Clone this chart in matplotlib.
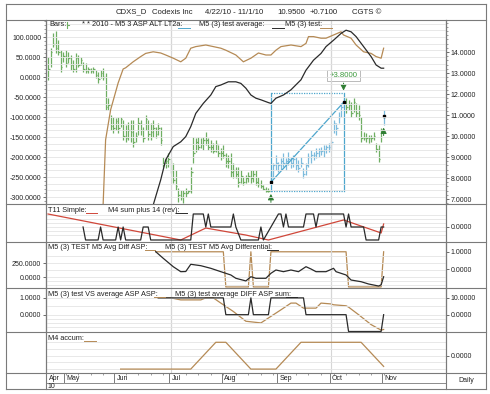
import pandas as pd
import matplotlib
matplotlib.use("Agg")
import matplotlib.pyplot as plt
from matplotlib.lines import Line2D
from matplotlib.ticker import FixedLocator, MultipleLocator, FuncFormatter

plt.rcParams['font.family'] = ['Liberation Sans', 'DejaVu Sans']

W, H = 490, 394

# trading days, Apr 22 - Nov 1 2010
holidays = ['2010-05-31', '2010-07-05', '2010-09-06']
days = pd.bdate_range('2010-04-22', '2010-11-01', freq='C', holidays=holidays)

# daily bars (high / low / close)
bar_high = [13.76, 14.19, 14.90, 15.00, 14.57, 14.10, 14.00, 14.10, 14.00, 13.86,
            13.62, 13.95, 13.86, 13.76, 13.52, 13.48, 13.29, 13.24, 13.29, 13.14, 13.05, 13.14, 13.24,
            13.00, 11.81, 11.00, 10.90, 10.86, 10.90, 10.90, 10.76, 10.52, 10.67, 10.76, 10.76, 10.19,
            10.90, 10.76, 10.43, 11.00, 10.76, 10.62, 10.76, 10.43, 10.62, 10.43, 9.00, 8.95, 9.19,
            8.86, 8.71, 8.38, 7.52, 7.43, 7.43, 7.52, 7.43, 8.52, 9.95, 9.90, 9.95, 9.90, 9.95, 10.19,
            9.90, 9.81, 9.67, 9.81, 9.57,
            9.43, 9.57, 9.19, 9.10, 9.19, 8.71, 8.52, 8.52, 8.38, 8.05, 8.14, 8.29, 8.38, 8.38, 8.38,
            8.05, 7.90, 7.67, 7.57, 7.52, 8.29, 8.71, 9.10, 8.76, 8.95, 9.19, 8.95, 9.24, 9.00, 9.10,
            9.00, 8.86, 9.00, 8.48, 8.71, 9.19, 9.33, 9.24, 9.43, 9.43, 9.48, 9.57, 9.57, 9.67, 9.81,
            10.76, 10.62, 11.14, 11.57, 11.81, 11.81, 11.71, 11.62, 11.81, 11.57, 11.48, 10.90, 10.19,
            10.14, 10.05, 10.05, 10.19, 9.67, 9.57, 10.38, 11.24]
bar_low = [12.67, 13.29, 14.24, 13.95, 13.86, 13.05, 13.52, 13.29, 13.48, 13.14,
           13.05, 13.05, 13.29, 13.38, 13.05, 13.00, 13.00, 13.00, 13.00, 12.76, 12.52, 12.76, 12.67,
           11.24, 11.24, 10.29, 10.14, 10.29, 10.14, 10.43, 9.81, 9.71, 9.81, 9.71, 9.48, 9.71,
           10.05, 10.05, 9.71, 10.29, 9.81, 9.81, 9.95, 9.90, 10.05, 9.57, 8.52, 8.48, 8.52,
           8.24, 7.76, 7.43, 6.86, 6.95, 6.81, 7.10, 7.29, 7.29, 8.71, 9.24, 9.33, 9.43, 9.33, 9.57,
           9.33, 9.24, 9.19, 9.24, 9.00,
           8.86, 8.95, 8.52, 8.48, 8.05, 8.00, 8.00, 7.57, 7.76, 7.67, 7.76, 7.81, 7.76, 7.81,
           7.67, 7.57, 7.52, 7.43, 7.33, 7.33, 7.76, 8.05, 8.38, 8.29, 8.38, 8.52, 8.38, 8.62, 8.48,
           8.52, 8.38, 8.29, 8.52, 8.00, 8.14, 8.52, 8.71, 8.86, 8.95, 9.00, 9.10, 9.00, 9.19, 9.24, 9.33,
           10.14, 10.05, 10.62, 10.90, 11.38, 11.10, 11.24, 10.90, 11.14, 10.90, 10.76, 9.71, 9.81,
           9.71, 9.67, 9.71, 9.81, 9.24, 8.76, 9.71, 10.52]
bar_close = [13.20, 14.00, 14.40, 14.20, 14.00, 13.30, 13.80, 13.50, 13.70, 13.40,
             13.20, 13.70, 13.40, 13.60, 13.20, 13.10, 13.20, 13.10, 13.20, 12.90, 12.70, 13.00, 12.80,
             11.40, 11.50, 10.50, 10.40, 10.70, 10.40, 10.80, 10.00, 9.90, 10.30, 10.20, 9.70, 10.00,
             10.60, 10.30, 9.90, 10.80, 10.10, 10.20, 10.40, 10.10, 10.40, 9.80, 8.70, 8.80, 8.90,
             8.40, 7.90, 7.60, 7.20, 7.10, 7.30, 7.30, 7.40, 8.30, 9.20, 9.70, 9.50, 9.60, 9.80, 9.80,
             9.50, 9.50, 9.30, 9.60, 9.20,
             9.20, 9.10, 8.80, 8.80, 8.30, 8.40, 8.20, 7.80, 8.10, 7.80, 8.00, 8.10, 8.00, 8.20,
             7.80, 7.70, 7.60, 7.50, 7.40, 7.40, 8.05, 8.60, 8.70, 8.60, 8.80, 8.70, 8.80, 8.90, 8.70,
             8.90, 8.60, 8.50, 8.70, 8.20, 8.60, 9.00, 9.10, 9.10, 9.20, 9.30, 9.30, 9.40, 9.50, 9.50, 9.70,
             10.60, 10.40, 10.90, 11.40, 11.60, 11.40, 11.50, 11.10, 11.60, 11.10, 11.00, 9.90, 9.90,
             9.90, 9.90, 9.90, 10.00, 9.40, 8.90, 10.24, 10.95]

# measured move (+3.80)
move_start, move_end = 89, 118
move_start_price, move_end_price = 7.80, 11.60
box_low, box_high = 7.40, 12.06

# main panel indicators (left scale)
test_idx = [22, 23, 25, 28, 30, 31, 34, 37, 39, 42, 45, 47, 50, 53, 55, 57, 59, 63, 66, 69,
            71, 75, 78, 81, 84, 87, 89, 91, 93, 97, 101, 103, 104, 106, 109, 111, 114, 117, 118, 121,
            123, 126, 129, 131, 133, 134]
test_val = [-320, -157, -82, -15, 20, 23, 38, 51, 59, 63, 60, 55, 47, 38, 47, 72, 76, 80, 76, 72,
            67, 55, 38, 47, 60, 55, 55, 67, 76, 80, 76, 84, 101, 101, 97, 97, 105, 113, 105, 97,
            80, 63, 59, 51, 47, 72]
avg_idx = [42, 45, 47, 50, 53, 55, 57, 59, 62, 65, 67, 69, 72, 75, 77, 79, 81, 83, 85, 88,
           89, 91, 94, 97, 101, 103, 106, 109, 111, 114, 117, 119, 121, 123, 126, 129, 131, 133, 134]
avg_val = [-320, -257, -207, -174, -162, -149, -124, -91, -66, -45, -24, -20, -12, -12, -16, -28, -45, -53, -57, -64,
           -66, -53, -45, -32, -7, 17, 42, 59, 76, 92, 109, 117, 113, 101, 76, 51, 30, 22, 22]

# T11 panel
t11_idx = [0, 53, 63, 79, 88, 118, 133, 134]
t11_val = [1.0, -1.0, -0.08, -0.62, -1.0, 0.54, -0.46, 0.23]
m4_idx = [14, 15, 20, 21, 22, 27, 28, 29, 30, 31, 37, 38, 40, 41, 57, 58, 62, 63, 64, 65,
          73, 74, 75, 77, 84, 85, 86, 92, 93, 94, 95, 96, 102, 103, 106, 107, 108, 118, 119, 120,
          121, 126, 127, 132, 133, 134]
m4_val = [0, -1, -1, 0, -1, -1, 0, -1, 0, -1, -1, 0, 0, -1, -1, 1, 1, 0, 1, 0,
          0, 1, 0, -1, -1, 0, -1, 1, 1, 0, 1, 0, 0, 1, 1, 0, 1, 1, 0, 1,
          0, 0, -1, -1, 0, 0]

# M5 avg diff panel
diff_idx = [43, 46, 50, 53, 55, 57, 61, 65, 69, 73, 75, 79, 81, 83, 85, 87, 89, 91, 94, 97,
            100, 103, 105, 107, 111, 114, 115, 119, 121, 125, 128, 132, 133, 134]
diff_val = [452, 334, 184, 95, 98, 227, 202, 155, 95, 36, -23, -70, 5, -23, -23, -23, 66, 125, 95, 125,
            95, 184, 143, 95, 95, 155, 95, 36, -54, -84, -125, -161, -140, 5]
asp_idx = [43, 70, 71, 80, 81, 82, 88, 89, 119, 120, 133, 134]
asp_val = [1, 1, -1, -1, 1, -1, -1, 1, 1, -1, -1, 1]

# M5 test VS average panel
vs_idx = [44, 70, 71, 80, 81, 82, 88, 89, 102, 103, 119, 120, 133, 134]
vs_val = [1, 1, 0, 0, 1, 0, 0, 1, 1, 0, 0, -1, -1, 0]
sum_idx = [44, 49, 53, 61, 63, 66, 69, 74, 79, 85, 89, 93, 97, 99, 102, 107, 109, 113, 114, 119,
           120, 124, 129, 133, 134]
sum_val = [10, 10, 8.8, 8.8, 10, 10, 6.9, 1.9, -3.9, -4.9, -1, 2.9, 6.9, 6.9, 3.9, 3.9, 6.9, 6.4, 5.9, 5.3,
           4.5, 0, -5.9, -9.2, -8.8]

# M4 accum panel
acc_idx = [29, 57, 67, 71, 81, 91, 101, 125, 134]
acc_val = [-5, -5, 5, 5, -5, -5, 5, 5, -4]

GREEN = '#6fae63'
BLUE = '#7dbbdc'
BOXC = '#4ea6cc'
BROWN = '#b58a55'
BLACK = '#2a2a2a'
RED = '#d0473a'
GRID = '#e4e4e4'
EDGE = '#7a7a7a'
FS = 5.0
LFS = 5.3

XMIN = -0.8
XMAX = 158.9
n = len(days)
x = list(range(n))
month_idx = [0] + [i for i in range(1, n) if days[i].month != days[i - 1].month]
quarter_idx = [i for i in month_idx if i > 0 and days[i].month in (1, 4, 7, 10)]

fig = plt.figure(figsize=(W / 100, H / 100), dpi=100)
fig.patch.set_facecolor('white')


def px_rect(x0, y0, x1, y1):
    return [x0 / W, 1 - y1 / H, (x1 - x0) / W, (y1 - y0) / H]


def fline(xs, ys, color=EDGE, lw=0.8):
    fig.add_artist(Line2D([v / W for v in xs], [1 - v / H for v in ys], color=color, lw=lw))


def ftext(px, py, s, size=LFS, color='#222222', **kw):
    fig.text(px / W, 1 - py / H, s, fontsize=size, color=color, va='center', **kw)


def fmt4(v, pos):
    return '%.4f' % v


def style(ax):
    ax.set_xlim(XMIN, XMAX)
    ax.patch.set_visible(False)
    for s in ['top', 'bottom']:
        ax.spines[s].set_visible(False)
    for s in ['left', 'right']:
        ax.spines[s].set_color(EDGE)
        ax.spines[s].set_linewidth(0.8)
    ax.tick_params(axis='x', bottom=False, labelbottom=False)
    ax.tick_params(axis='y', which='both', direction='out', length=2.5, width=0.6,
                   pad=1, labelsize=FS, colors='#555555', labelcolor='#222222')
    ax.tick_params(axis='y', which='minor', length=1.3, width=0.4)
    for q in quarter_idx:
        ax.axvline(q, color='#d6d6d6', lw=0.8, zorder=0)


def up_arrow(axis, xi, y0, y1):
    axis.annotate('', xy=(xi, y1), xytext=(xi, y0), zorder=5,
                  arrowprops=dict(arrowstyle='-|>,head_width=0.18,head_length=0.35',
                                  color='#2e7d32', lw=0.7, shrinkA=0, shrinkB=0))


# ---------------- main price panel ----------------
ax = fig.add_axes(px_rect(46, 20, 446, 204))
axp = ax.twinx()
style(ax)
style(axp)
ax.set_ylim(-317.5, 142.5)
axp.set_ylim(6.762, 15.524)
ax.yaxis.set_major_locator(FixedLocator([100, 50, 0, -50, -100, -150, -200, -250, -300]))
ax.yaxis.set_minor_locator(MultipleLocator(10))
ax.yaxis.set_major_formatter(FuncFormatter(fmt4))
axp.yaxis.set_major_locator(FixedLocator([7, 8, 9, 10, 11, 12, 13, 14]))
axp.yaxis.set_minor_locator(MultipleLocator(0.2))
axp.yaxis.set_major_formatter(FuncFormatter(fmt4))
for g in range(-19, 9):
    ax.axhline(g * 50 / 3, color=GRID, lw=0.6, zorder=0)

cols = [BLUE if (move_start <= i <= move_end or i == n - 1) else GREEN for i in x]
axp.vlines(x, bar_low, bar_high, colors=cols, lw=0.9, zorder=2)
axp.hlines(bar_close, [i for i in x], [i + 0.7 for i in x], colors=cols, lw=0.9, zorder=2)

# measured move box
axp.plot([move_start, move_start], [box_low, box_high], color=BOXC, lw=0.9, zorder=3)
axp.plot([move_end, move_end], [box_low, box_high], color=BOXC, lw=0.9, zorder=3)
axp.plot([move_start, move_end], [box_low, box_low], color=BOXC, lw=0.9, ls=(0, (1, 1)), zorder=3)
axp.plot([move_start, move_end], [box_high, box_high], color=BOXC, lw=0.9, ls=(0, (1, 1)), zorder=3)
axp.plot([move_start, move_end], [move_start_price, move_end_price], color=BOXC, lw=0.9, zorder=3)
axp.plot([move_start, move_end, n - 1], [move_start_price, move_end_price, bar_close[-1]],
         ls='none', marker='s', ms=1.6, color='black', zorder=4)
axp.text(move_end, 12.88, '+%.4f' % (move_end_price - move_start_price), fontsize=5.6,
         color='#3c9a3c', ha='center', va='center', zorder=5,
         bbox=dict(boxstyle='square,pad=0.3', fc='white', ec='#b0b0b0', lw=0.6))
ax.plot(test_idx, test_val, color=BROWN, lw=0.9, zorder=4)
ax.plot(avg_idx, avg_val, color=BLACK, lw=0.9, zorder=4)
ax.set_zorder(axp.get_zorder() + 1)
# signal arrows (drawn on the top axes, price mapped through axp)
up_arrow(axp, move_end, 12.52, 12.16)
up_arrow(axp, move_start, 6.84, 7.24)
up_arrow(axp, n - 1, 10.02, 10.40)

# ---------------- T11 panel ----------------
a2 = fig.add_axes(px_rect(46, 204, 446, 242))
style(a2)
a2.set_ylim(-1.154, 1.769)
a2.yaxis.tick_right()
a2.yaxis.set_major_locator(FixedLocator([0]))
a2.yaxis.set_major_formatter(FuncFormatter(fmt4))
for g in [-0.6, -0.3, 0.0, 0.3, 0.6, 0.9]:
    a2.axhline(g, color=GRID, lw=0.6, zorder=0)
a2.plot(t11_idx, t11_val, color=RED, lw=0.9)
a2.plot(m4_idx, m4_val, color=BLACK, lw=0.9)

# ---------------- M5 avg diff panel ----------------
a3 = fig.add_axes(px_rect(46, 242, 446, 288))
a3r = a3.twinx()
style(a3)
style(a3r)
a3.set_ylim(-196.4, 625)
a3r.set_ylim(-1.06, 1.556)
a3.yaxis.set_major_locator(FixedLocator([250, 0]))
a3.yaxis.set_major_formatter(FuncFormatter(fmt4))
a3r.yaxis.set_major_locator(FixedLocator([1, 0]))
a3r.yaxis.set_major_formatter(FuncFormatter(fmt4))
for g in [-150, -75, 0, 125, 250, 375]:
    a3.axhline(g, color=GRID, lw=0.6, zorder=0)
a3r.plot(asp_idx, asp_val, color=BROWN, lw=0.9)
a3.plot(diff_idx, diff_val, color=BLACK, lw=0.9)
a3.set_zorder(a3r.get_zorder() + 1)

# ---------------- M5 test VS average panel ----------------
a4 = fig.add_axes(px_rect(46, 288, 446, 332))
a4r = a4.twinx()
style(a4)
style(a4r)
a4.set_ylim(-1.03, 1.588)
a4r.set_ylim(-10.3, 15.88)
a4.yaxis.set_major_locator(FixedLocator([1, 0]))
a4.yaxis.set_major_formatter(FuncFormatter(fmt4))
a4r.yaxis.set_major_locator(FixedLocator([10, 0]))
a4r.yaxis.set_major_formatter(FuncFormatter(fmt4))
for g in [-0.75, -0.5, -0.25, 0, 0.5, 1.0]:
    a4.axhline(g, color=GRID, lw=0.6, zorder=0)
a4r.plot(sum_idx, sum_val, color=BROWN, lw=0.9)
a4.plot(vs_idx, vs_val, color=BLACK, lw=0.9)
a4.set_zorder(a4r.get_zorder() + 1)

# ---------------- M4 accum panel ----------------
a5 = fig.add_axes(px_rect(46, 332, 446, 373))
style(a5)
a5.set_ylim(-6.46, 8.84)
a5.yaxis.tick_right()
a5.yaxis.set_major_locator(FixedLocator([0]))
a5.yaxis.set_major_formatter(FuncFormatter(fmt4))
for g in [-5, -2.5, 0, 2.5, 5]:
    a5.axhline(g, color=GRID, lw=0.6, zorder=0)
a5.plot(acc_idx, acc_val, color=BROWN, lw=0.9)

# ---------------- date row ----------------
ad = fig.add_axes(px_rect(46, 373, 446, 383))
ad.set_xlim(XMIN, XMAX)
ad.set_ylim(0, 1)
ad.patch.set_visible(False)
for s in ad.spines.values():
    s.set_visible(False)
ad.set_yticks([])
mondays = [i for i in x if days[i].weekday() == 0]
ad.set_xticks(mondays)
ad.set_xticklabels([])
ad.tick_params(axis='x', bottom=False, top=True, direction='in', length=1.5, width=0.5, colors='#777777')
for i in month_idx:
    if i > 0:
        ad.axvline(i - 0.5, color=EDGE, lw=0.7)
    ad.text(i + 0.3, 0.45, days[i].strftime('%b'), fontsize=FS, color='#222222',
            ha='left', va='center')
ftext(47, 386, days[0].strftime('%y'), size=FS)
ftext(466, 381, 'Daily', size=FS, ha='center')

# ---------------- frame ----------------
for yy in [4, 20, 204, 242, 288, 332, 373, 389]:
    fline([6, 486], [yy, yy])
fline([46, 446], [383, 383], lw=0.6)
fline([6, 6], [4, 389])
fline([486, 486], [4, 389])
fline([446, 446], [20, 389])
fline([46, 46], [20, 389])

# title band
for px, s in [(116, 'CDXS_D'), (152, 'Codexis Inc'), (205, '4/22/10 - 11/1/10'),
              (277, '%.4f' % bar_close[-1]), (310, '%+.4f' % (bar_close[-1] - bar_close[-2])),
              (352, 'CGTS \u00a9')]:
    ftext(px, 12, s, size=5.6)

# legends
ftext(49, 25, 'Bars:')
fline([67, 67], [22, 28], color=GREEN, lw=0.8)
fline([67, 69], [25, 25], color=GREEN, lw=0.8)
ftext(82, 25, '* * 2010 - M5 3 ASP ALT LT2a:')
fline([178, 190], [28, 28], color=BOXC, lw=0.7)
ftext(199, 25, 'M5 (3) test average:')
fline([272, 284], [28, 28], color=BLACK, lw=0.7)
ftext(285, 25, 'M5 (3) test:')
fline([320, 332], [28, 28], color=BROWN, lw=0.7)

ftext(48, 210, 'T11 Simple:')
fline([86, 97], [213, 213], color=RED, lw=0.7)
ftext(108, 210, 'M4 sum plus 14 (rev):')
fline([176, 187], [213, 213], color=BLACK, lw=0.7)

ftext(48, 247, 'M5 (3) TEST M5 Avg Diff ASP:')
fline([145, 155], [250, 250], color=BROWN, lw=0.7)
ftext(165, 247, 'M5 (3) TEST M5 Avg Differential:')
fline([267, 278], [250, 250], color=BLACK, lw=0.7)

ftext(48, 294, 'M5 (3) test VS average ASP ASP:')
fline([154, 165], [297, 297], color=BROWN, lw=0.7)
ftext(175, 294, 'M5 (3) test average DIFF ASP sum:')
fline([286, 297], [297, 297], color=BLACK, lw=0.7)

ftext(48, 338, 'M4 accum:')
fline([84, 96], [341, 341], color=BROWN, lw=0.7)

fig.savefig('out.png', dpi=100)
